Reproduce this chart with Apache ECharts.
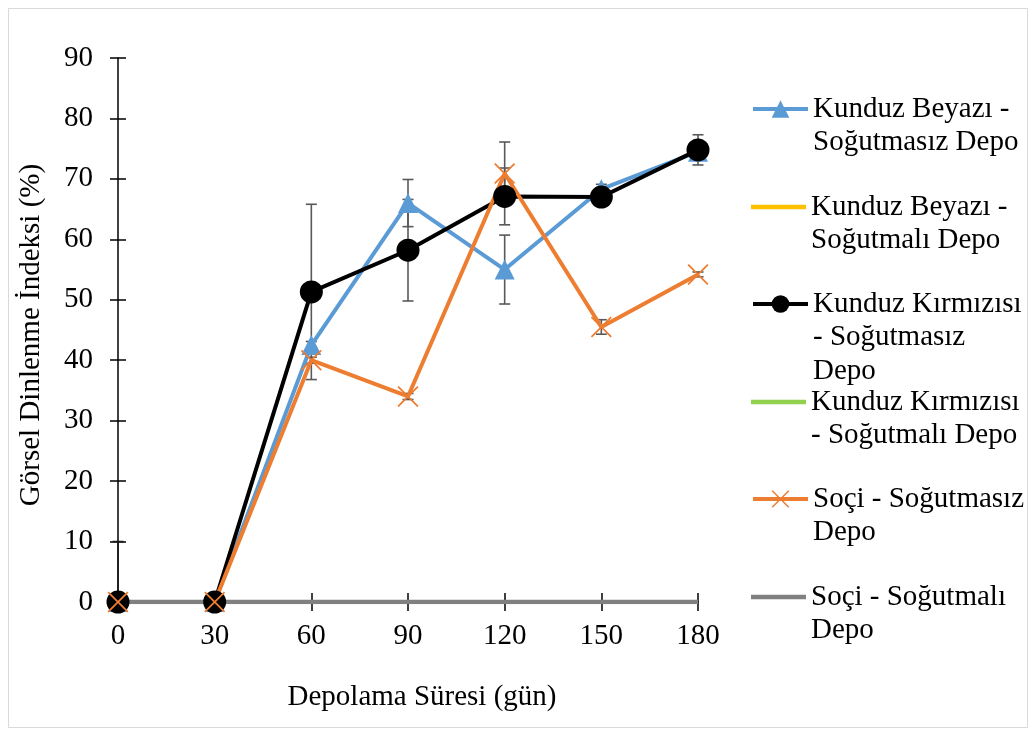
<!DOCTYPE html>
<html>
<head>
<meta charset="utf-8">
<script src="https://cdn.jsdelivr.net/npm/echarts@6/dist/echarts.min.js"></script>
<style>
html,body{margin:0;padding:0;background:#fff;}
#chart{width:1032px;height:735px;}
</style>
</head>
<body>
<div id="chart"></div>
<script>
var categories = ['0','30','60','90','120','150','180'];
var seriesNames = [
  'Kunduz Beyazı - Soğutmasız Depo',
  'Kunduz Beyazı - Soğutmalı Depo',
  'Kunduz Kırmızısı - Soğutmasız Depo',
  'Kunduz Kırmızısı - Soğutmalı Depo',
  'Soçi - Soğutmasız Depo',
  'Soçi - Soğutmalı Depo'
];
var legendLines = [
  ['Kunduz Beyazı -', 'Soğutmasız Depo'],
  ['Kunduz Beyazı -', 'Soğutmalı Depo'],
  ['Kunduz Kırmızısı', '- Soğutmasız', 'Depo'],
  ['Kunduz Kırmızısı', '- Soğutmalı Depo'],
  ['Soçi - Soğutmasız', 'Depo'],
  ['Soçi - Soğutmalı', 'Depo']
];
var beyazSogutmasiz   = [0, 0, 42.5, 66.0, 55.0, 68.3, 74.5];
var beyazSogutmali    = [0, 0, 0, 0, 0, 0, 0];
var kirmiziSogutmasiz = [0, 0, 51.3, 58.2, 67.1, 67.0, 74.8];
var kirmiziSogutmali  = [0, 0, 0, 0, 0, 0, 0];
var sociSogutmasiz    = [0, 0, 40.0, 34.0, 70.9, 45.5, 54.2];
var sociSogutmali     = [0, 0, 0, 0, 0, 0, 0];

var beyazSogutmasizErr   = [0, 0, 0.6, 3.9, 5.7, 0.8, 0.8];
var kirmiziSogutmasizErr = [0, 0, 14.5, 8.4, 4.7, 0.8, 2.5];
var sociSogutmasizErr    = [0, 0, 0.5, 0.5, 5.2, 1.2, 0.4];
var sogutmaliErr         = [10, 0, 0, 0, 0, 0, 0];

var yTicks = {min: 0, max: 90, interval: 10};

var FONT = '"Liberation Serif", "Times New Roman", serif';
var FS = 29;
var colors = ['#5B9BD5', '#FFC000', '#000000', '#92D050', '#ED7D31', '#808080'];
var xPath = 'path://M0,1.2 L1.2,0 L10,8.8 L18.8,0 L20,1.2 L11.2,10 L20,18.8 L18.8,20 L10,11.2 L1.2,20 L0,18.8 L8.8,10 Z';
var barPath = 'path://M0,0 L55,0 L55,4.5 L0,4.5 Z';

function errData(vals, errs) {
  var out = [];
  for (var i = 0; i < vals.length; i++) {
    if (errs[i] > 0) out.push([i, vals[i] - errs[i], vals[i] + errs[i]]);
  }
  return out;
}
function errSeries(vals, errs, color) {
  return {
    type: 'custom',
    z: 1,
    silent: true,
    data: errData(vals, errs),
    renderItem: function (params, api) {
      var idx = api.value(0);
      var lo = api.value(1), hi = api.value(2);
      var loC = Math.max(0, lo);
      var p1 = api.coord([idx, loC]);
      var p2 = api.coord([idx, hi]);
      var w = 5.5;
      var style = {stroke: color, lineWidth: 1.6};
      var children = [
        {type: 'line', shape: {x1: p1[0], y1: p1[1], x2: p2[0], y2: p2[1]}, style: style},
        {type: 'line', shape: {x1: p2[0] - w, y1: p2[1], x2: p2[0] + w, y2: p2[1]}, style: style}
      ];
      if (lo >= 0) {
        children.push({type: 'line', shape: {x1: p1[0] - w, y1: p1[1], x2: p1[0] + w, y2: p1[1]}, style: style});
      }
      return {type: 'group', children: children};
    }
  };
}

var lineData = [beyazSogutmasiz, beyazSogutmali, kirmiziSogutmasiz, kirmiziSogutmali, sociSogutmasiz, sociSogutmali];
var symbols = ['triangle', 'none', 'circle', 'none', xPath, 'none'];
var symbolSizes = [20, 0, 23, 0, 21, 0];
var widths = [4, 4, 4, 4, 4, 4.5];

var series = [
  errSeries(beyazSogutmasiz, beyazSogutmasizErr, '#595959'),
  errSeries(kirmiziSogutmasiz, kirmiziSogutmasizErr, '#595959'),
  errSeries(sociSogutmasiz, sociSogutmasizErr, '#595959'),
  errSeries(sociSogutmali, sogutmaliErr, '#1a1a1a')
];
for (var s = 0; s < 6; s++) {
  series.push({
    name: seriesNames[s],
    type: 'line',
    data: lineData[s],
    symbol: symbols[s],
    symbolSize: symbolSizes[s],
    showSymbol: symbols[s] !== 'none',
    z: 2,
    lineStyle: {color: colors[s], width: widths[s]},
    itemStyle: {color: colors[s]},
    emphasis: {disabled: true}
  });
}

var legendCenters = [109, 207, 304, 402, 499, 597];
var LH = 33.5;
var legends = [];
for (var k = 0; k < 6; k++) {
  var lines = legendLines[k];
  var n = 2 * lines.length - 1;
  var item = {name: seriesNames[k]};
  if (symbols[k] === 'none') item.icon = barPath;
  legends.push({
    left: 751,
    top: legendCenters[k] - n * LH / 2,
    padding: 0,
    itemWidth: 55,
    itemHeight: 22,
    selectedMode: false,
    data: [item],
    lineStyle: {width: widths[k]},
    formatter: (function (ls) {
      return function () {
        var pre = '';
        for (var j = 0; j < ls.length - 1; j++) pre += '\n';
        return pre + ls.join('\n');
      };
    })(lines),
    textStyle: {fontFamily: FONT, fontSize: FS, color: '#000', lineHeight: LH}
  });
}

var chart = echarts.init(document.getElementById('chart'), null, {renderer: 'canvas'});
chart.setOption({
  animation: false,
  backgroundColor: '#ffffff',
  graphic: [{
    type: 'rect',
    shape: {x: 8.5, y: 8.5, width: 1019, height: 719},
    style: {fill: 'none', stroke: '#D9D9D9', lineWidth: 1},
    silent: true
  }],
  grid: {left: 118, right: 334, top: 58, bottom: 133, containLabel: false, outerBoundsMode: 'none'},
  legend: legends,
  xAxis: [{
    type: 'category',
    data: categories,
    boundaryGap: false,
    position: 'bottom',
    name: 'Depolama Süresi (gün)',
    nameLocation: 'middle',
    nameGap: 81,
    nameTextStyle: {fontFamily: FONT, fontSize: FS, color: '#000', padding: [0, 0, 0, 28]},
    axisLine: {lineStyle: {color: '#000', width: 1.5}},
    axisTick: {show: true, inside: false, length: 9, lineStyle: {color: '#000', width: 1.5}},
    axisLabel: {fontFamily: FONT, fontSize: FS, color: '#000', margin: 20},
    splitLine: {show: false}
  }, {
    type: 'category',
    data: categories,
    boundaryGap: false,
    position: 'bottom',
    axisLine: {show: false},
    axisTick: {show: true, inside: true, length: 9, lineStyle: {color: '#000', width: 1.5}},
    axisLabel: {show: false},
    splitLine: {show: false}
  }],
  yAxis: [{
    type: 'value',
    min: yTicks.min, max: yTicks.max, interval: yTicks.interval,
    position: 'left',
    name: 'Görsel Dinlenme İndeksi (%)',
    nameLocation: 'middle',
    nameGap: 72,
    nameRotate: 90,
    nameTextStyle: {fontFamily: FONT, fontSize: FS, color: '#000', padding: [0, 10, 0, 0]},
    axisLine: {show: true, lineStyle: {color: '#000', width: 1.5}},
    axisTick: {show: true, inside: false, length: 8, lineStyle: {color: '#000', width: 1.5}},
    axisLabel: {fontFamily: FONT, fontSize: FS, color: '#000', margin: 25},
    splitLine: {show: false}
  }, {
    type: 'value',
    min: yTicks.min, max: yTicks.max, interval: yTicks.interval,
    position: 'left',
    offset: 0,
    axisLine: {show: false},
    axisTick: {show: true, inside: true, length: 8, lineStyle: {color: '#000', width: 1.5}},
    axisLabel: {show: false},
    splitLine: {show: false}
  }],
  series: series
});
</script>
</body>
</html>
